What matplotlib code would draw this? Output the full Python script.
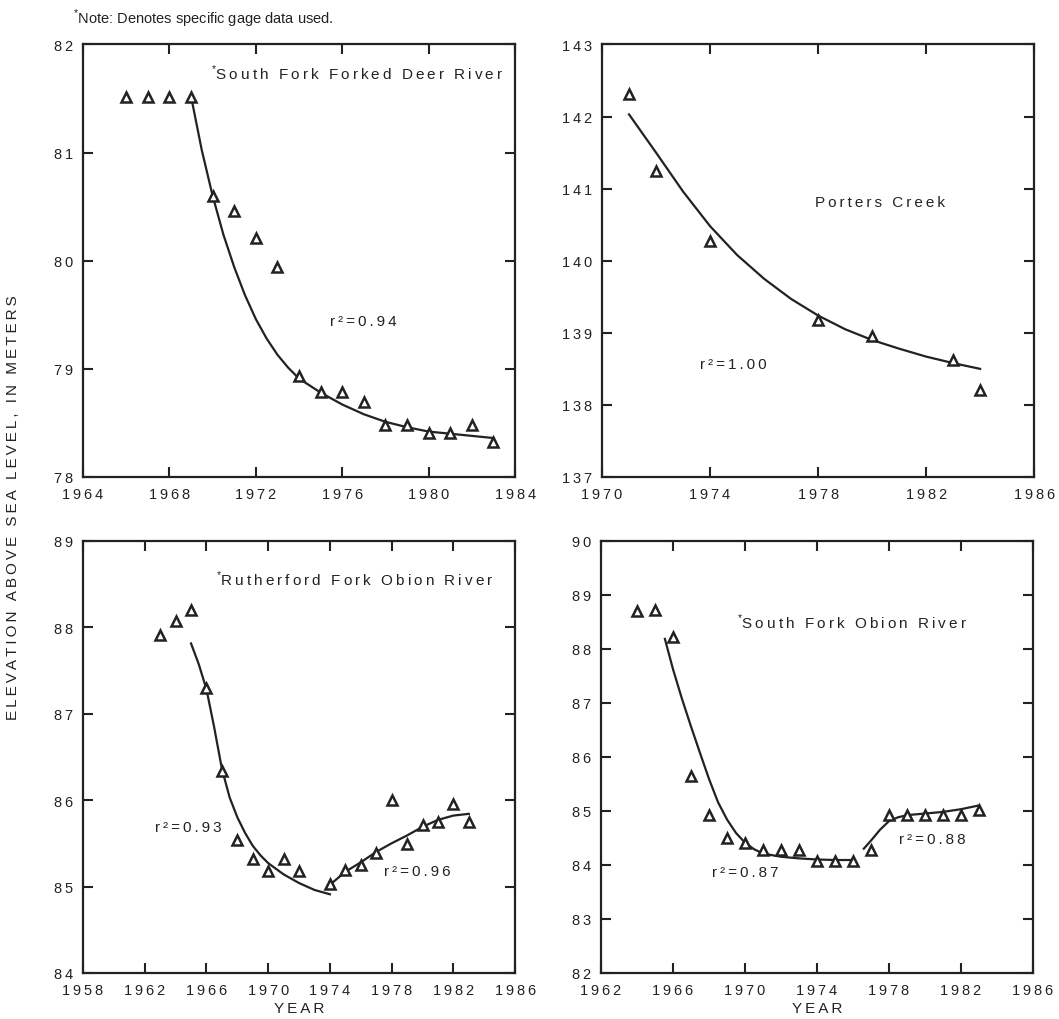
import matplotlib
matplotlib.use("Agg")
import matplotlib.pyplot as plt
from matplotlib.ticker import FuncFormatter

plt.rcParams['font.family'] = ['Liberation Sans', 'DejaVu Sans']
plt.rcParams['mathtext.fontset'] = 'custom'
plt.rcParams['mathtext.rm'] = 'Liberation Sans'

INK = '#222222'
THIN = '\u2009'

# South Fork Forked Deer River
fd_years = [1966, 1967, 1968, 1969, 1970, 1971, 1972, 1973, 1974, 1975, 1976, 1977, 1978, 1979, 1980, 1981, 1982, 1983]
fd_elev = [81.51, 81.51, 81.51, 81.51, 80.60, 80.46, 80.21, 79.94, 78.93, 78.79, 78.79, 78.69, 78.48, 78.48, 78.41, 78.41, 78.48, 78.32]
fd_fit_years = [1969, 1969.5, 1970, 1970.5, 1971, 1971.5, 1972, 1972.5, 1973, 1973.5, 1974,
                1975, 1976, 1977, 1978, 1979, 1980, 1981, 1982, 1983]
fd_fit = [81.52, 81.02, 80.60, 80.24, 79.94, 79.68, 79.46, 79.28, 79.13, 79.01, 78.91,
          78.78, 78.67, 78.58, 78.51, 78.46, 78.42, 78.40, 78.38, 78.36]

# Porters Creek
pc_years = [1971, 1972, 1974, 1978, 1980, 1983, 1984]
pc_elev = [142.31, 141.25, 140.28, 139.18, 138.95, 138.62, 138.21]
pc_fit_years = [1971, 1972, 1973, 1974, 1975, 1976, 1977, 1978, 1979, 1980, 1981, 1982, 1983, 1984]
pc_fit = [142.03, 141.50, 140.96, 140.48, 140.08, 139.75, 139.47, 139.24, 139.05, 138.90, 138.78, 138.67, 138.58, 138.50]

# Rutherford Fork Obion River
rf_years = [1963, 1964, 1965, 1966, 1967, 1968, 1969, 1970, 1971, 1972,
            1974, 1975, 1976, 1977, 1978, 1979, 1980, 1981, 1982, 1983]
rf_elev = [87.91, 88.07, 88.20, 87.30, 86.34, 85.54, 85.32, 85.18, 85.32, 85.18,
           85.03, 85.19, 85.25, 85.39, 86.00, 85.49, 85.71, 85.74, 85.95, 85.74]
rf_fit1_years = [1965, 1965.5, 1966, 1966.5, 1967, 1967.5, 1968, 1968.5, 1969, 1969.5, 1970, 1971, 1972, 1973, 1974]
rf_fit1 = [87.81, 87.57, 87.28, 86.84, 86.36, 86.03, 85.80, 85.62, 85.47, 85.36, 85.27, 85.14, 85.04, 84.96, 84.91]
rf_fit2_years = [1974, 1975, 1976, 1977, 1978, 1979, 1980, 1981, 1982, 1983]
rf_fit2 = [85.02, 85.17, 85.28, 85.40, 85.50, 85.59, 85.69, 85.77, 85.82, 85.84]

# South Fork Obion River
sf_years = [1964, 1965, 1966, 1967, 1968, 1969, 1970, 1971, 1972, 1973,
            1974, 1975, 1976, 1977, 1978, 1979, 1980, 1981, 1982, 1983]
sf_elev = [88.69, 88.71, 88.22, 85.64, 84.93, 84.50, 84.40, 84.28, 84.28, 84.28,
           84.08, 84.08, 84.08, 84.28, 84.93, 84.93, 84.93, 84.93, 84.93, 85.01]
sf_fit1_years = [1965.55, 1966, 1966.5, 1967, 1967.5, 1968, 1968.5, 1969, 1969.5, 1970, 1970.5,
                 1971, 1972, 1973, 1974, 1975, 1976]
sf_fit1 = [88.18, 87.62, 87.07, 86.56, 86.07, 85.59, 85.16, 84.84, 84.59, 84.41, 84.29,
           84.21, 84.15, 84.12, 84.10, 84.09, 84.09]
sf_fit2_years = [1976.6, 1977, 1977.5, 1978, 1978.5, 1979, 1980, 1981, 1982, 1983]
sf_fit2 = [84.30, 84.45, 84.65, 84.81, 84.88, 84.92, 84.95, 84.98, 85.03, 85.10]


def spaced(s):
    # 原图字间距较大，用细空格拉开
    return THIN.join(s)


def setup_axes(ax, xlim, ylim, xstep=4):
    ax.set_xlim(*xlim)
    ax.set_ylim(*ylim)
    ax.set_xticks(range(xlim[0], xlim[1] + 1, xstep))
    ax.set_yticks(range(ylim[0], ylim[1] + 1))
    fmt = FuncFormatter(lambda v, pos: spaced(str(int(round(v)))))
    ax.xaxis.set_major_formatter(fmt)
    ax.yaxis.set_major_formatter(fmt)
    ax.tick_params(direction='in', top=True, right=True, length=7, width=1.5,
                   labelsize=10.5, colors=INK, pad=7)
    for sp in ax.spines.values():
        sp.set_linewidth(1.6)
        sp.set_color(INK)


def draw_points(ax, x, y):
    ax.plot(x, y, linestyle='none', marker='^', markersize=6.5,
            markerfacecolor='white', markeredgecolor=INK, markeredgewidth=1.8, zorder=3)


def draw_fit(ax, x, y):
    ax.plot(x, y, color=INK, linewidth=1.6, zorder=2, solid_joinstyle='round')


def label(ax, x, y, s, ha='left', star=False):
    txt = spaced(s)
    if star:
        txt = r'$^{*}$' + txt
    ax.text(x, y, txt, transform=ax.transAxes, ha=ha, va='center', fontsize=11, color=INK)


fig = plt.figure(figsize=(10.59, 10.20), dpi=100)
W, H = 0.408, 0.424

##########################################
# 左上：South Fork Forked Deer River
##########################################
ax1 = fig.add_axes([0.0784, 0.5314, W, H])
setup_axes(ax1, (1964, 1984), (78, 82))
draw_fit(ax1, fd_fit_years, fd_fit)
draw_points(ax1, fd_years, fd_elev)
label(ax1, 0.972, 0.935, 'South Fork Forked Deer River', ha='right', star=True)
label(ax1, 0.572, 0.36, 'r²=0.94')

##########################################
# 右上：Porters Creek
##########################################
ax2 = fig.add_axes([0.5685, 0.5314, W, H])
setup_axes(ax2, (1970, 1986), (137, 143))
draw_fit(ax2, pc_fit_years, pc_fit)
draw_points(ax2, pc_years, pc_elev)
label(ax2, 0.494, 0.635, 'Porters Creek')
label(ax2, 0.226, 0.261, 'r²=1.00')

##########################################
# 左下：Rutherford Fork Obion River
##########################################
ax3 = fig.add_axes([0.0784, 0.0451, W, H])
setup_axes(ax3, (1958, 1986), (84, 89))
draw_fit(ax3, rf_fit1_years, rf_fit1)
draw_fit(ax3, rf_fit2_years, rf_fit2)
draw_points(ax3, rf_years, rf_elev)
label(ax3, 0.949, 0.912, 'Rutherford Fork Obion River', ha='right', star=True)
label(ax3, 0.167, 0.338, 'r²=0.93')
label(ax3, 0.696, 0.236, 'r²=0.96')
ax3.set_xlabel(spaced('YEAR'), fontsize=11, color=INK, labelpad=3)

##########################################
# 右下：South Fork Obion River
##########################################
ax4 = fig.add_axes([0.5675, 0.0451, W, H])
setup_axes(ax4, (1962, 1986), (82, 90))
draw_fit(ax4, sf_fit1_years, sf_fit1)
draw_fit(ax4, sf_fit2_years, sf_fit2)
draw_points(ax4, sf_years, sf_elev)
label(ax4, 0.314, 0.812, 'South Fork Obion River', star=True)
label(ax4, 0.256, 0.234, 'r²=0.87')
label(ax4, 0.69, 0.309, 'r²=0.88')
ax4.set_xlabel(spaced('YEAR'), fontsize=11, color=INK, labelpad=3)

# 共用文字
fig.text(0.069, 0.982, r'$^{*}$Note: Denotes specific gage data used.',
         ha='left', va='center', fontsize=10.5, color=INK)
fig.text(0.012, 0.502, spaced('ELEVATION ABOVE SEA LEVEL, IN METERS'), rotation=90,
         ha='center', va='center', fontsize=11, color=INK)

fig.savefig('out.png', dpi=100)
